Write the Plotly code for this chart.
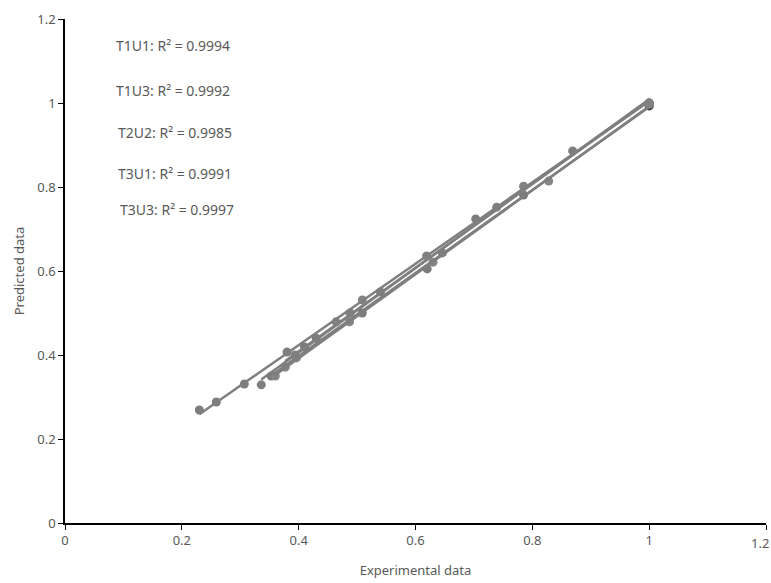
import numpy as np
import plotly.graph_objects as go

series_names = ["T1U1", "T1U3", "T2U2", "T3U1", "T3U3"]
r2_values = ["0.9994", "0.9992", "0.9985", "0.9991", "0.9997"]

t1u1_x = [0.23, 0.259, 0.307, 0.38, 0.43, 0.54, 0.703, 0.869, 1.0]
t1u1_y = [0.269, 0.288, 0.331, 0.407, 0.44, 0.55, 0.724, 0.886, 1.0]
t1u3_x = [0.336, 0.394, 0.488, 0.619, 0.739, 1.0]
t1u3_y = [0.329, 0.40, 0.50, 0.636, 0.752, 1.0]
t2u2_x = [0.353, 0.41, 0.509, 0.62, 0.785, 1.0]
t2u2_y = [0.35, 0.419, 0.50, 0.605, 0.781, 0.993]
t3u1_x = [0.36, 0.396, 0.487, 0.63, 0.828, 1.0]
t3u1_y = [0.35, 0.393, 0.479, 0.621, 0.814, 0.997]
t3u3_x = [0.377, 0.464, 0.509, 0.646, 0.785, 1.0]
t3u3_y = [0.371, 0.479, 0.531, 0.643, 0.802, 1.0]

tick_vals = [0, 0.2, 0.4, 0.6, 0.8, 1, 1.2]
tick_text = ["0", "0.2", "0.4", "0.6", "0.8", "1", "1.2"]

xs = [t1u1_x, t1u3_x, t2u2_x, t3u1_x, t3u3_x]
ys = [t1u1_y, t1u3_y, t2u2_y, t3u1_y, t3u3_y]
marker_colors = ["#7d7d7d", "#808080", "#7a7a7a", "#858585", "#828282"]

fig = go.Figure()

for name, x, y, mc in zip(series_names, xs, ys, marker_colors):
    if name == "T2U2":
        mc = [mc] * (len(x) - 1) + ["#2e2e2e"]
    fig.add_trace(go.Scatter(x=x, y=y, mode="markers", name=name,
                             marker=dict(size=9, color=mc), showlegend=False))
for name, x, y in zip(series_names, xs, ys):
    a, b = np.polyfit(x, y, 1)
    lx = np.array([min(x), max(x)])
    fig.add_trace(go.Scatter(x=lx, y=a * lx + b, mode="lines", showlegend=False,
                             line=dict(color="#7f7f7f", width=2.5)))

# R² labels
label_pos = [(114, 45), (114, 90), (116, 132), (116, 173), (118, 209)]
for (px, py), name, r2 in zip(label_pos, series_names, r2_values):
    fig.add_annotation(text=f"{name}: R² = {r2}", xref="paper", yref="paper",
                       x=(px - 65) / 701, y=(523 - py) / 504,
                       xanchor="left", yanchor="middle", showarrow=False,
                       font=dict(family="Noto Sans", size=14, color="#595959"))

# last x tick label (sits at the right edge in the reference)
fig.add_annotation(text=tick_text[-1], xref="x", yref="paper", x=tick_vals[-1], y=0,
                   xanchor="center", yanchor="top", yshift=-9, xshift=-6, showarrow=False,
                   font=dict(family="Noto Sans", size=13, color="#595959"))

axis_common = dict(range=[0, 1.2], showline=True, linecolor="black",
                   linewidth=1.5, ticks="outside", ticklen=5, tickcolor="black",
                   showgrid=False, zeroline=False,
                   tickfont=dict(family="Noto Sans", size=13, color="#595959"))

fig.update_layout(
    width=771, height=583,
    margin=dict(l=65, r=5, t=19, b=60),
    paper_bgcolor="white", plot_bgcolor="white",
    xaxis=dict(**axis_common, tickvals=tick_vals, ticktext=tick_text,
               title=dict(text="Experimental data", standoff=18,
                          font=dict(family="Noto Sans", size=13, color="#595959"))),
    yaxis=dict(**axis_common, tickvals=tick_vals, ticktext=tick_text,
               title=dict(text="Predicted data", standoff=10,
                          font=dict(family="Noto Sans", size=13, color="#595959"))),
)

fig.write_html("out.html")
